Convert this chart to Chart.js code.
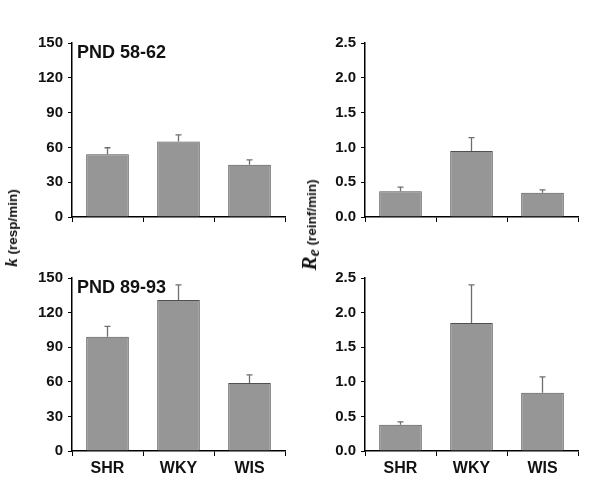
<!DOCTYPE html>
<html>
<head>
<meta charset="utf-8">
<script src="https://cdn.jsdelivr.net/npm/chart.js@4"></script>
<style>
  html, body { margin:0; padding:0; background:#fff; }
  #wrap { position:relative; width:600px; height:492px; overflow:hidden; }
  canvas { position:absolute; }
  .ytitle { position:absolute; transform:translate(-50%,-50%) rotate(-90deg); white-space:nowrap;
            font-family:"Liberation Sans", Arial, sans-serif; font-weight:bold; font-size:13.5px; color:#111; }
  .ser { font-family:"Liberation Serif","Times New Roman",serif; font-style:italic; font-weight:bold; }
</style>
</head>
<body>
<div id="wrap">
  <canvas id="c1"></canvas>
  <canvas id="c2"></canvas>
  <canvas id="c3"></canvas>
  <canvas id="c4"></canvas>
  <div class="ytitle" style="left:12px; top:228px;"><span class="ser" style="font-size:17px;">k</span> (resp/min)</div>
  <div class="ytitle" style="left:310px; top:225px;"><span class="ser" style="font-size:21px;">R<sub style="font-size:16px;vertical-align:-3px;">e</sub></span> (reinf/min)</div>
</div>
<script>
const categories = ['SHR', 'WKY', 'WIS'];
const kEarly = [54, 65, 45];
const kEarlyErr = [5.7, 5.8, 4.3];
const kLate = [99, 131, 59];
const kLateErr = [9, 13, 7];
const reEarly = [0.37, 0.95, 0.35];
const reEarlyErr = [0.06, 0.19, 0.04];
const reLate = [0.38, 1.85, 0.84];
const reLateErr = [0.04, 0.55, 0.23];
const kTicks = [0, 30, 60, 90, 120, 150];
const reTicks = [0, 0.5, 1.0, 1.5, 2.0, 2.5];
const titles = ['PND 58-62', 'PND 89-93'];

const FONT = '"Liberation Sans", Arial, sans-serif';

const errorBars = {
  id: 'errorBars',
  afterDatasetsDraw(chart, args, opts) {
    const ctx = chart.ctx;
    const meta = chart.getDatasetMeta(0);
    const ys = chart.scales.y;
    const vals = chart.data.datasets[0].data;
    ctx.save();
    ctx.strokeStyle = '#6e6e6e';
    ctx.lineWidth = 1.3;
    meta.data.forEach((bar, i) => {
      const yTop = ys.getPixelForValue(vals[i]);
      const yErr = ys.getPixelForValue(vals[i] + opts.err[i]);
      ctx.beginPath();
      ctx.moveTo(bar.x, yTop);
      ctx.lineTo(bar.x, yErr);
      ctx.moveTo(bar.x - 3, yErr);
      ctx.lineTo(bar.x + 3, yErr);
      ctx.stroke();
    });
    ctx.restore();
  }
};

const panelTitle = {
  id: 'panelTitle',
  afterDraw(chart, args, opts) {
    if (!opts.text) return;
    const ctx = chart.ctx;
    ctx.save();
    ctx.font = 'bold 18px ' + FONT;
    ctx.fillStyle = '#111';
    ctx.textBaseline = 'top';
    ctx.textAlign = 'left';
    ctx.fillText(opts.text, chart.chartArea.left + 5, chart.chartArea.top + 1);
    ctx.restore();
  }
};

function makeChart(id, pos, values, errs, ticks, title, showLabels, yWidth, xHeight, pad) {
  const cv = document.getElementById(id);
  cv.style.left = pos.left + 'px';
  cv.style.top = pos.top + 'px';
  cv.style.width = pos.width + 'px';
  cv.style.height = pos.height + 'px';
  cv.width = pos.width; cv.height = pos.height;
  const maxV = ticks[ticks.length - 1];
  const step = ticks[1] - ticks[0];
  const dec = step < 1 ? 1 : 0;
  return new Chart(cv, {
    type: 'bar',
    data: {
      labels: categories,
      datasets: [{
        data: values,
        backgroundColor: '#969696',
        borderColor: '#505050',
        borderWidth: 1,
        barPercentage: 0.6,
        categoryPercentage: 1.0
      }]
    },
    options: {
      responsive: false,
      animation: false,
      events: [],
      layout: { padding: pad },
      plugins: {
        legend: { display: false },
        tooltip: { enabled: false },
        errorBars: { err: errs },
        panelTitle: { text: title }
      },
      scales: {
        x: {
          afterFit(s) { s.height = xHeight; },
          grid: { display: true, drawOnChartArea: false, drawTicks: true, tickLength: 5, color: '#000', lineWidth: 1 },
          border: { display: true, color: '#000', width: 1.5 },
          ticks: { display: showLabels, padding: 3, color: '#111', font: { family: FONT, weight: 'bold', size: 16 } }
        },
        y: {
          min: 0, max: maxV,
          afterFit(s) { s.width = yWidth; },
          afterBuildTicks(s) { s.ticks = ticks.map(v => ({ value: v })); },
          grid: { display: true, drawOnChartArea: false, drawTicks: true, tickLength: 4, color: '#000', lineWidth: 1 },
          border: { display: true, color: '#000', width: 1.5 },
          ticks: {
            padding: 5, color: '#111',
            font: { family: FONT, weight: 'bold', size: 15 },
            callback: v => Number(v).toFixed(dec)
          }
        }
      }
    },
    plugins: [errorBars, panelTitle]
  });
}

// top-left: chart area x 72..285, y 43..216
makeChart('c1', { left: 20, top: 29, width: 275, height: 202 }, kEarly, kEarlyErr, kTicks, titles[0], false, 52, 12, { top: 10, right: 10, left: 0, bottom: 0 });
// top-right: chart area x 365..578, y 43..216
makeChart('c2', { left: 310, top: 29, width: 278, height: 202 }, reEarly, reEarlyErr, reTicks, '', false, 55, 12, { top: 10, right: 10, left: 0, bottom: 0 });
// bottom-left: chart area x 72..285, y 277..451
makeChart('c3', { left: 20, top: 264, width: 275, height: 216 }, kLate, kLateErr, kTicks, titles[1], true, 52, 29, { top: 12, right: 10, left: 0, bottom: 0 });
// bottom-right: chart area x 365..578, y 277..451
makeChart('c4', { left: 310, top: 264, width: 278, height: 216 }, reLate, reLateErr, reTicks, '', true, 55, 29, { top: 12, right: 10, left: 0, bottom: 0 });
</script>
</body>
</html>
